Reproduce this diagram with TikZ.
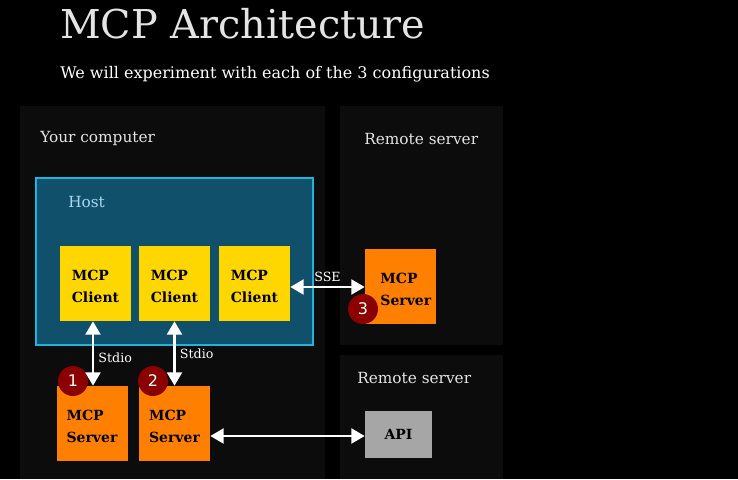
\documentclass[tikz,border=0pt]{standalone}
\usepackage{fontspec}
\setmainfont{DejaVu Serif}
\setsansfont{DejaVu Sans}
\usetikzlibrary{arrows.meta, positioning}
\definecolor{mcpbg}{HTML}{000000}
\definecolor{mcppanel}{HTML}{0C0C0C}
\definecolor{mcphost}{HTML}{11506B}
\definecolor{mcpcyan}{HTML}{1BB5E0}
\definecolor{mcphosttxt}{HTML}{A8D8EE}
\definecolor{mcpyellow}{HTML}{FFD700}
\definecolor{mcporange}{HTML}{FF7F00}
\definecolor{mcpgray}{HTML}{A6A6A6}
\definecolor{mcpred}{HTML}{8B0000}
\definecolor{mcptext}{HTML}{E4E4E4}
\tikzset{
  panel/.style={fill=mcppanel, draw=none},
  paneltitle/.style={anchor=west, inner sep=0pt, text=mcptext, font=\fontsize{11.5}{13}\selectfont},
  box/.style={rectangle, minimum width=53.25pt, minimum height=56.25pt, inner sep=0pt,
    font=\bfseries\fontsize{10.5}{16}\selectfont, align=left, text=black,
    text height=28pt, text depth=0pt},
  client/.style={box, fill=mcpyellow},
  server/.style={box, fill=mcporange},
  api/.style={box, fill=mcpgray, minimum width=50.25pt, minimum height=35.25pt,
    text height=7.5pt},
  badge/.style={circle, fill=mcpred, minimum size=22.5pt, inner sep=0pt, text=white,
    font=\sffamily\fontsize{12}{13}\selectfont},
  conn/.style={{Triangle[length=10pt, width=11pt]}-{Triangle[length=10pt, width=11pt]},
    line width=2.2pt, white},
  connlbl/.style={text=white, font=\fontsize{9.5}{10}\selectfont, inner sep=3pt},
}

\begin{document}
\begin{tikzpicture}[x=0.75pt, y=-0.75pt]
    % background and panels
    \fill[mcpbg] (0,0) rectangle (738,479);
    \fill[panel] (20,106) rectangle (325,479);
    \fill[panel] (340,106) rectangle (503,345);
    \fill[panel] (340,355) rectangle (503,479);
    \filldraw[fill=mcphost, draw=mcpcyan, line width=1.5pt] (36,178) rectangle (313,345);

    \node[anchor=base west, inner sep=0pt, text=mcptext, font=\fontsize{29.8}{32}\selectfont] (title) at (60,38) {MCP Architecture};
    \node[anchor=base west, inner sep=0pt, text=white, font=\fontsize{12}{14}\selectfont] (subtitle) at (60,78) {We will experiment with each of the 3 configurations};

    \node[paneltitle] (yours) at (40,139) {Your computer};
    \node[paneltitle] (remA) at (364,139) {Remote server};
    \node[paneltitle] (remB) at (357,378) {Remote server};
    \node[paneltitle, text=mcphosttxt] (hostlbl) at (68,202) {Host};

    \node[client] (cl1) at (95.5,283.5) {MCP\\Client};
    \node[client] (cl2) at (174.5,283.5) {MCP\\Client};
    \node[client] (cl3) at (254.5,283.5) {MCP\\Client};

    \node[server] (sv1) at (92,423.5) {MCP\\Server};
    \node[server] (sv2) at (174.5,423.5) {MCP\\Server};
    \node[server] (sv3) at (400.5,286.5) {\hspace*{8pt}MCP\\\hspace*{8pt}Server};
    \node[api] (api) at (398.5,434.5) {API};

    \node[badge] (b1) at (73,381) {1};
    \node[badge] (b2) at (153,381) {2};
    \node[badge] (b3) at (363,309) {3};

    \draw[conn] (cl1.south -| 93,0) -- node[connlbl, right, pos=0.57]{Stdio} (sv1.north -| 93,0);
    \draw[conn] (cl2.south) -- node[connlbl, right, pos=0.5]{Stdio} (sv2.north);
    \draw[conn] (cl3.east |- 0,287) -- node[connlbl, above]{SSE} (sv3.west |- 0,287);
    \draw[conn] (sv2.east |- 0,436) -- (api.west |- 0,436);
  \end{tikzpicture}
\end{document}
